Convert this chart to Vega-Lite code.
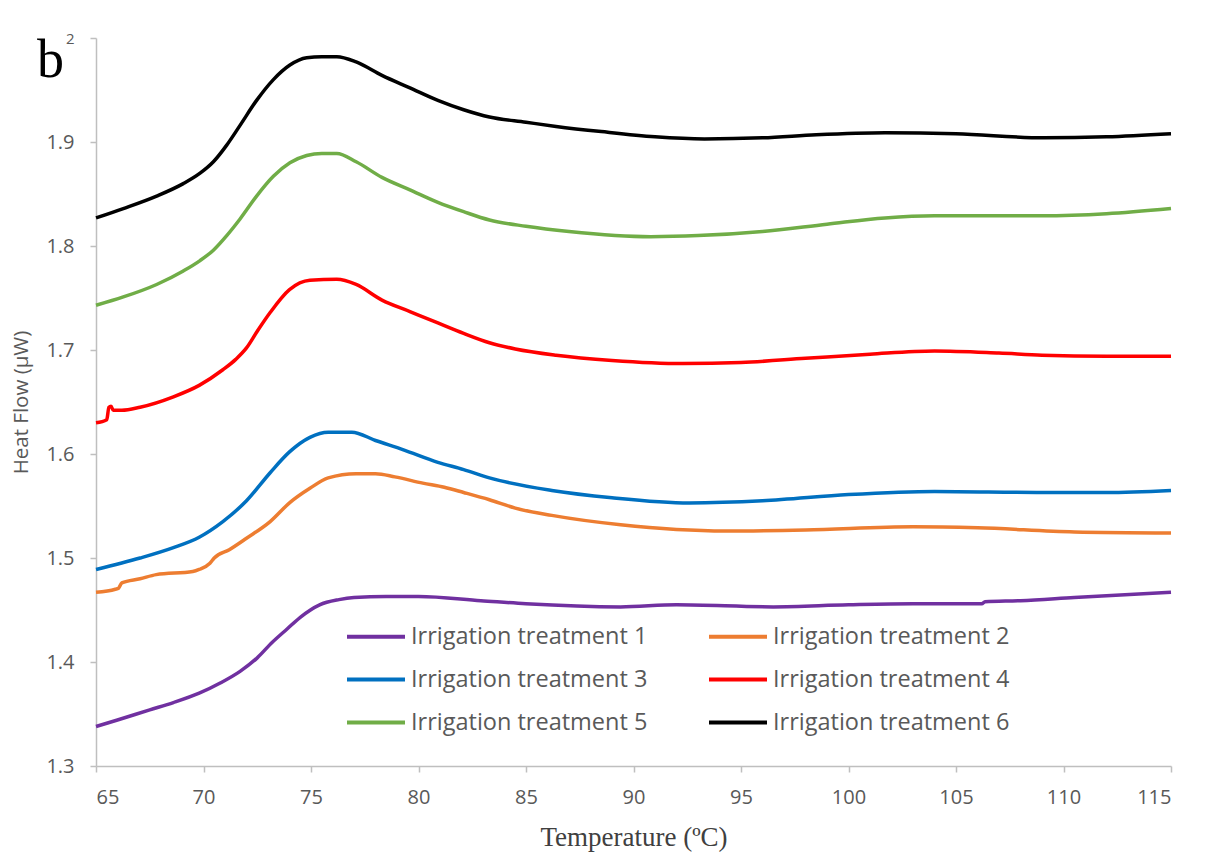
{
  "$schema": "https://vega.github.io/schema/vega-lite/v6.json",
  "width": 1075,
  "height": 728,
  "autosize": {"type": "none"},
  "padding": {"left": 96, "top": 38, "right": 38, "bottom": 98},
  "background": "white",
  "title": {"text": "b", "anchor": "start", "frame": "group", "baseline": "alphabetic", "offset": 0, "font": "Liberation Serif", "fontSize": 54, "fontWeight": "normal", "color": "#000000", "dx": -59, "dy": 100},
  "data": {"values": [
    {"s":"Irrigation treatment 1","t":65,"h":1.338},{"s":"Irrigation treatment 1","t":65.96,"h":1.344},{"s":"Irrigation treatment 1","t":67.5,"h":1.354},{"s":"Irrigation treatment 1","t":68.6,"h":1.361},{"s":"Irrigation treatment 1","t":69.8,"h":1.370},{"s":"Irrigation treatment 1","t":70.8,"h":1.380},{"s":"Irrigation treatment 1","t":71.7,"h":1.391},{"s":"Irrigation treatment 1","t":72.5,"h":1.404},{"s":"Irrigation treatment 1","t":73.2,"h":1.419},{"s":"Irrigation treatment 1","t":73.9,"h":1.432},{"s":"Irrigation treatment 1","t":74.5,"h":1.443},{"s":"Irrigation treatment 1","t":75.4,"h":1.455},{"s":"Irrigation treatment 1","t":76.3,"h":1.460},{"s":"Irrigation treatment 1","t":77,"h":1.462},{"s":"Irrigation treatment 1","t":78.5,"h":1.463},{"s":"Irrigation treatment 1","t":80,"h":1.463},{"s":"Irrigation treatment 1","t":82.9,"h":1.459},{"s":"Irrigation treatment 1","t":85,"h":1.456},{"s":"Irrigation treatment 1","t":89.4,"h":1.453},{"s":"Irrigation treatment 1","t":92,"h":1.455},{"s":"Irrigation treatment 1","t":96.5,"h":1.453},{"s":"Irrigation treatment 1","t":100,"h":1.455},{"s":"Irrigation treatment 1","t":103,"h":1.456},{"s":"Irrigation treatment 1","t":106.2,"h":1.456},{"s":"Irrigation treatment 1","t":106.35,"h":1.458},{"s":"Irrigation treatment 1","t":108,"h":1.459},{"s":"Irrigation treatment 1","t":110.5,"h":1.462},{"s":"Irrigation treatment 1","t":115,"h":1.467},
    {"s":"Irrigation treatment 2","t":65,"h":1.467},{"s":"Irrigation treatment 2","t":65.9,"h":1.470},{"s":"Irrigation treatment 2","t":66.05,"h":1.471},{"s":"Irrigation treatment 2","t":66.2,"h":1.476},{"s":"Irrigation treatment 2","t":67.05,"h":1.480},{"s":"Irrigation treatment 2","t":67.8,"h":1.484},{"s":"Irrigation treatment 2","t":69.5,"h":1.487},{"s":"Irrigation treatment 2","t":69.8,"h":1.489},{"s":"Irrigation treatment 2","t":70.3,"h":1.495},{"s":"Irrigation treatment 2","t":70.5,"h":1.500},{"s":"Irrigation treatment 2","t":71.2,"h":1.508},{"s":"Irrigation treatment 2","t":72,"h":1.519},{"s":"Irrigation treatment 2","t":73.1,"h":1.535},{"s":"Irrigation treatment 2","t":74,"h":1.553},{"s":"Irrigation treatment 2","t":74.95,"h":1.567},{"s":"Irrigation treatment 2","t":75.8,"h":1.577},{"s":"Irrigation treatment 2","t":77.1,"h":1.581},{"s":"Irrigation treatment 2","t":78,"h":1.581},{"s":"Irrigation treatment 2","t":78.9,"h":1.578},{"s":"Irrigation treatment 2","t":80.2,"h":1.572},{"s":"Irrigation treatment 2","t":81.2,"h":1.568},{"s":"Irrigation treatment 2","t":82.1,"h":1.563},{"s":"Irrigation treatment 2","t":83.3,"h":1.556},{"s":"Irrigation treatment 2","t":84.5,"h":1.548},{"s":"Irrigation treatment 2","t":86.2,"h":1.541},{"s":"Irrigation treatment 2","t":89.4,"h":1.532},{"s":"Irrigation treatment 2","t":94.3,"h":1.526},{"s":"Irrigation treatment 2","t":98,"h":1.527},{"s":"Irrigation treatment 2","t":103,"h":1.530},{"s":"Irrigation treatment 2","t":106,"h":1.529},{"s":"Irrigation treatment 2","t":110.5,"h":1.525},{"s":"Irrigation treatment 2","t":115,"h":1.524},
    {"s":"Irrigation treatment 3","t":65,"h":1.489},{"s":"Irrigation treatment 3","t":67.05,"h":1.500},{"s":"Irrigation treatment 3","t":68.6,"h":1.510},{"s":"Irrigation treatment 3","t":69.8,"h":1.520},{"s":"Irrigation treatment 3","t":70.9,"h":1.535},{"s":"Irrigation treatment 3","t":72,"h":1.555},{"s":"Irrigation treatment 3","t":73.1,"h":1.582},{"s":"Irrigation treatment 3","t":74,"h":1.602},{"s":"Irrigation treatment 3","t":74.95,"h":1.616},{"s":"Irrigation treatment 3","t":75.8,"h":1.621},{"s":"Irrigation treatment 3","t":76.9,"h":1.621},{"s":"Irrigation treatment 3","t":78,"h":1.613},{"s":"Irrigation treatment 3","t":79.3,"h":1.604},{"s":"Irrigation treatment 3","t":80.9,"h":1.592},{"s":"Irrigation treatment 3","t":82.1,"h":1.585},{"s":"Irrigation treatment 3","t":83.3,"h":1.577},{"s":"Irrigation treatment 3","t":86.2,"h":1.565},{"s":"Irrigation treatment 3","t":89,"h":1.558},{"s":"Irrigation treatment 3","t":92.6,"h":1.553},{"s":"Irrigation treatment 3","t":96,"h":1.555},{"s":"Irrigation treatment 3","t":100,"h":1.561},{"s":"Irrigation treatment 3","t":104,"h":1.564},{"s":"Irrigation treatment 3","t":109,"h":1.563},{"s":"Irrigation treatment 3","t":112,"h":1.563},{"s":"Irrigation treatment 3","t":115,"h":1.565},
    {"s":"Irrigation treatment 4","t":65,"h":1.630},{"s":"Irrigation treatment 4","t":65.5,"h":1.633},{"s":"Irrigation treatment 4","t":65.6,"h":1.645},{"s":"Irrigation treatment 4","t":65.7,"h":1.646},{"s":"Irrigation treatment 4","t":65.8,"h":1.642},{"s":"Irrigation treatment 4","t":66.2,"h":1.642},{"s":"Irrigation treatment 4","t":67.05,"h":1.645},{"s":"Irrigation treatment 4","t":68.6,"h":1.655},{"s":"Irrigation treatment 4","t":69.8,"h":1.666},{"s":"Irrigation treatment 4","t":70.9,"h":1.681},{"s":"Irrigation treatment 4","t":71.5,"h":1.691},{"s":"Irrigation treatment 4","t":72,"h":1.702},{"s":"Irrigation treatment 4","t":72.5,"h":1.718},{"s":"Irrigation treatment 4","t":73.1,"h":1.736},{"s":"Irrigation treatment 4","t":74,"h":1.758},{"s":"Irrigation treatment 4","t":74.95,"h":1.767},{"s":"Irrigation treatment 4","t":76.2,"h":1.768},{"s":"Irrigation treatment 4","t":77.1,"h":1.763},{"s":"Irrigation treatment 4","t":78.3,"h":1.748},{"s":"Irrigation treatment 4","t":79.6,"h":1.737},{"s":"Irrigation treatment 4","t":80.9,"h":1.726},{"s":"Irrigation treatment 4","t":82.1,"h":1.716},{"s":"Irrigation treatment 4","t":83.3,"h":1.707},{"s":"Irrigation treatment 4","t":84.5,"h":1.701},{"s":"Irrigation treatment 4","t":86.4,"h":1.695},{"s":"Irrigation treatment 4","t":89,"h":1.690},{"s":"Irrigation treatment 4","t":92.3,"h":1.687},{"s":"Irrigation treatment 4","t":95,"h":1.688},{"s":"Irrigation treatment 4","t":98,"h":1.692},{"s":"Irrigation treatment 4","t":101,"h":1.696},{"s":"Irrigation treatment 4","t":104,"h":1.699},{"s":"Irrigation treatment 4","t":107,"h":1.697},{"s":"Irrigation treatment 4","t":109,"h":1.695},{"s":"Irrigation treatment 4","t":112,"h":1.694},{"s":"Irrigation treatment 4","t":115,"h":1.694},
    {"s":"Irrigation treatment 5","t":65,"h":1.743},{"s":"Irrigation treatment 5","t":66.27,"h":1.751},{"s":"Irrigation treatment 5","t":67.82,"h":1.763},{"s":"Irrigation treatment 5","t":69.06,"h":1.776},{"s":"Irrigation treatment 5","t":69.84,"h":1.786},{"s":"Irrigation treatment 5","t":70.46,"h":1.796},{"s":"Irrigation treatment 5","t":71.08,"h":1.810},{"s":"Irrigation treatment 5","t":71.7,"h":1.826},{"s":"Irrigation treatment 5","t":72.47,"h":1.848},{"s":"Irrigation treatment 5","t":73.25,"h":1.867},{"s":"Irrigation treatment 5","t":74.02,"h":1.880},{"s":"Irrigation treatment 5","t":74.8,"h":1.887},{"s":"Irrigation treatment 5","t":75.5,"h":1.889},{"s":"Irrigation treatment 5","t":76.2,"h":1.889},{"s":"Irrigation treatment 5","t":77.1,"h":1.881},{"s":"Irrigation treatment 5","t":78.3,"h":1.866},{"s":"Irrigation treatment 5","t":79.6,"h":1.854},{"s":"Irrigation treatment 5","t":80.9,"h":1.842},{"s":"Irrigation treatment 5","t":82.1,"h":1.833},{"s":"Irrigation treatment 5","t":83.3,"h":1.825},{"s":"Irrigation treatment 5","t":85,"h":1.819},{"s":"Irrigation treatment 5","t":87,"h":1.814},{"s":"Irrigation treatment 5","t":90.8,"h":1.809},{"s":"Irrigation treatment 5","t":93,"h":1.810},{"s":"Irrigation treatment 5","t":96,"h":1.814},{"s":"Irrigation treatment 5","t":99,"h":1.821},{"s":"Irrigation treatment 5","t":101.7,"h":1.827},{"s":"Irrigation treatment 5","t":104,"h":1.829},{"s":"Irrigation treatment 5","t":109,"h":1.829},{"s":"Irrigation treatment 5","t":112,"h":1.831},{"s":"Irrigation treatment 5","t":115,"h":1.836},
    {"s":"Irrigation treatment 6","t":65,"h":1.827},{"s":"Irrigation treatment 6","t":66.27,"h":1.836},{"s":"Irrigation treatment 6","t":67.82,"h":1.848},{"s":"Irrigation treatment 6","t":69.06,"h":1.860},{"s":"Irrigation treatment 6","t":69.84,"h":1.870},{"s":"Irrigation treatment 6","t":70.46,"h":1.881},{"s":"Irrigation treatment 6","t":71.08,"h":1.897},{"s":"Irrigation treatment 6","t":71.7,"h":1.916},{"s":"Irrigation treatment 6","t":72.47,"h":1.940},{"s":"Irrigation treatment 6","t":73.25,"h":1.960},{"s":"Irrigation treatment 6","t":74.02,"h":1.974},{"s":"Irrigation treatment 6","t":74.8,"h":1.981},{"s":"Irrigation treatment 6","t":75.5,"h":1.982},{"s":"Irrigation treatment 6","t":76.2,"h":1.982},{"s":"Irrigation treatment 6","t":77.1,"h":1.977},{"s":"Irrigation treatment 6","t":78.3,"h":1.964},{"s":"Irrigation treatment 6","t":79.6,"h":1.952},{"s":"Irrigation treatment 6","t":80.9,"h":1.940},{"s":"Irrigation treatment 6","t":82.1,"h":1.931},{"s":"Irrigation treatment 6","t":83.3,"h":1.924},{"s":"Irrigation treatment 6","t":85,"h":1.919},{"s":"Irrigation treatment 6","t":86.4,"h":1.915},{"s":"Irrigation treatment 6","t":88.5,"h":1.910},{"s":"Irrigation treatment 6","t":91,"h":1.905},{"s":"Irrigation treatment 6","t":93.3,"h":1.903},{"s":"Irrigation treatment 6","t":96,"h":1.904},{"s":"Irrigation treatment 6","t":98.5,"h":1.907},{"s":"Irrigation treatment 6","t":101.7,"h":1.909},{"s":"Irrigation treatment 6","t":105,"h":1.908},{"s":"Irrigation treatment 6","t":109.1,"h":1.904},{"s":"Irrigation treatment 6","t":112,"h":1.905},{"s":"Irrigation treatment 6","t":115,"h":1.908}
  ]},
  "mark": {"type": "line", "strokeWidth": 3.5, "interpolate": "monotone"},
  "encoding": {
    "x": {"field": "t", "type": "quantitative", "scale": {"domain": [65, 115], "nice": false, "zero": false},
      "axis": {"values": [65,70,75,80,85,90,95,100,105,110,115], "grid": false, "title": "Temperature (ºC)",
        "titleFont": "Liberation Serif", "titleFontSize": 27, "titleFontWeight": "normal", "titleColor": "#404040", "titlePadding": 17,
        "labelFont": "Open Sans", "labelFontSize": 20, "labelColor": "#595959", "labelPadding": 15,
        "domainColor": "#bfbfbf", "domainWidth": 1.5, "tickColor": "#bfbfbf", "tickWidth": 1.5, "tickSize": 6}},
    "y": {"field": "h", "type": "quantitative", "scale": {"domain": [1.3, 2], "nice": false, "zero": false},
      "axis": {"values": [1.3,1.4,1.5,1.6,1.7,1.8,1.9,2], "grid": false, "title": "Heat Flow (µW)",
        "labelExpr": "datum.value == 2 ? '2' : format(datum.value, '.1f')",
        "titleFont": "Open Sans", "titleFontSize": 20.5, "titleFontWeight": "normal", "titleColor": "#595959", "titlePadding": 14,
        "labelFont": "Open Sans", "labelFontSize": {"condition": {"test": "datum.value == 2", "value": 15}, "value": 20}, "labelColor": "#595959", "labelPadding": 16,
        "domainColor": "#bfbfbf", "domainWidth": 1.5, "tickColor": "#bfbfbf", "tickWidth": 1.5, "tickSize": 6}},
    "color": {"field": "s", "type": "nominal",
      "scale": {"domain": ["Irrigation treatment 1","Irrigation treatment 2","Irrigation treatment 3","Irrigation treatment 4","Irrigation treatment 5","Irrigation treatment 6"],
        "range": ["#7030A0","#ED7D31","#0070C0","#FF0000","#70AD47","#000000"]},
      "legend": {"title": null, "orient": "none", "legendX": 249, "legendY": 567.5, "columns": 2, "direction": "horizontal",
        "symbolType": "stroke", "symbolSize": 3364, "symbolStrokeWidth": 4, "labelOffset": 4,
        "labelFont": "Open Sans", "labelFontSize": 23.5, "labelColor": "#595959", "labelLimit": 400,
        "columnPadding": 53, "rowPadding": 0}}
  },
  "config": {"view": {"stroke": null}}
}
